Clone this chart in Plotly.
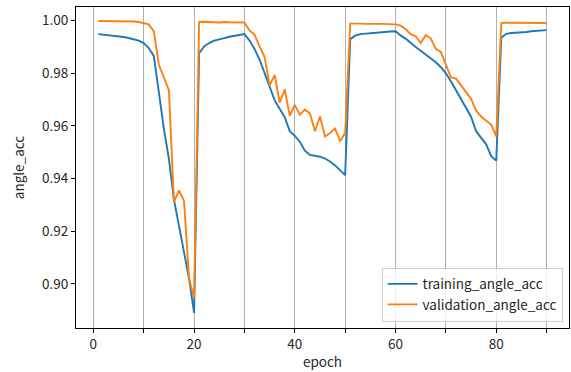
import plotly.graph_objects as go

epochs = list(range(1, 91))

training_angle_acc = [
    0.9949, 0.9947, 0.9945, 0.9943, 0.9941, 0.9938, 0.9934, 0.9930, 0.9924, 0.9915,
    0.9896, 0.9866, 0.9725, 0.9590, 0.9475, 0.9320, 0.9220, 0.9120, 0.9020, 0.8890,
    0.9877, 0.9902, 0.9915, 0.9924, 0.9930, 0.9934, 0.9939, 0.9943, 0.9947, 0.9949,
    0.9925, 0.9893, 0.9852, 0.9804, 0.9750, 0.9697, 0.9667, 0.9633, 0.9580, 0.9562,
    0.9540, 0.9506, 0.9490, 0.9487, 0.9483, 0.9476, 0.9465, 0.9450, 0.9430, 0.9413,
    0.9930, 0.9943, 0.9949, 0.9951, 0.9953, 0.9955, 0.9957, 0.9958, 0.9959, 0.9960,
    0.9944, 0.9932, 0.9915, 0.9900, 0.9886, 0.9871, 0.9858, 0.9842, 0.9823, 0.9800,
    0.9770, 0.9735, 0.9700, 0.9670, 0.9635, 0.9580, 0.9555, 0.9530, 0.9485, 0.9468,
    0.9935, 0.9950, 0.9953, 0.9954, 0.9955, 0.9957, 0.9960, 0.9962, 0.9963, 0.9964,
]

validation_angle_acc = [
    0.9999, 0.9999, 0.9999, 0.9999, 0.9999, 0.9999, 0.9998, 0.9997, 0.9995, 0.9991,
    0.9986, 0.9960, 0.9833, 0.9785, 0.9735, 0.9310, 0.9355, 0.9315, 0.9020, 0.8945,
    0.9995, 0.9996, 0.9996, 0.9994, 0.9993, 0.9995, 0.9994, 0.9993, 0.9994, 0.9993,
    0.9963, 0.9947, 0.9902, 0.9862, 0.9754, 0.9794, 0.9688, 0.9739, 0.9638, 0.9680,
    0.9643, 0.9662, 0.9648, 0.9580, 0.9636, 0.9560, 0.9573, 0.9590, 0.9542, 0.9573,
    0.9989, 0.9990, 0.9989, 0.9988, 0.9987, 0.9988, 0.9988, 0.9987, 0.9987, 0.9986,
    0.9981, 0.9968, 0.9949, 0.9941, 0.9915, 0.9945, 0.9933, 0.9893, 0.9881, 0.9830,
    0.9785, 0.9780, 0.9755, 0.9731, 0.9703, 0.9658, 0.9636, 0.9620, 0.9605, 0.9560,
    0.9991, 0.9992, 0.9992, 0.9991, 0.9992, 0.9991, 0.9990, 0.9991, 0.9991, 0.9991,
]

x_tick_vals = [0, 10, 20, 30, 40, 50, 60, 70, 80, 90]
x_tick_text = ["0", "", "20", "", "40", "", "60", "", "80", ""]
y_tick_vals = [0.90, 0.92, 0.94, 0.96, 0.98, 1.00]

FONT = "Noto Sans CJK JP"
FS = 13.5

fig = go.Figure()
fig.add_trace(go.Scatter(x=epochs, y=training_angle_acc, mode="lines",
                         name="training_angle_acc",
                         line=dict(color="#1f77b4", width=1.9)))
fig.add_trace(go.Scatter(x=epochs, y=validation_angle_acc, mode="lines",
                         name="validation_angle_acc",
                         line=dict(color="#ff7f0e", width=1.9)))

fig.update_layout(
    width=571, height=372,
    margin=dict(l=76, r=2, t=7, b=44),
    paper_bgcolor="white", plot_bgcolor="white",
    font=dict(family=FONT, size=FS, color="#262626"),
    showlegend=True,
    legend=dict(x=0.987, y=0.02, xanchor="right", yanchor="bottom",
                bgcolor="rgba(255,255,255,0.8)", bordercolor="#cccccc",
                borderwidth=1, font=dict(size=FS, family=FONT),
                tracegroupgap=0),
    xaxis=dict(range=[-3.45, 94.45], tickmode="array",
               tickvals=x_tick_vals, ticktext=x_tick_text,
               showgrid=True, gridcolor="#b0b0b0", gridwidth=1,
               zeroline=False, showline=True, linecolor="black",
               linewidth=1, mirror=True, ticks="outside", ticklen=4,
               tickcolor="black",
               title=dict(text="epoch", standoff=5, font=dict(size=FS))),
    yaxis=dict(range=[0.8832, 1.0052], tickmode="array",
               tickvals=y_tick_vals,
               ticktext=[f"{v:.2f}" for v in y_tick_vals],
               showgrid=False, zeroline=False, showline=True,
               linecolor="black", linewidth=1, mirror=True,
               ticks="outside", ticklen=4, tickcolor="black",
               title=dict(text="angle_acc", standoff=14, font=dict(size=FS))),
)

fig.write_html("out.html")
